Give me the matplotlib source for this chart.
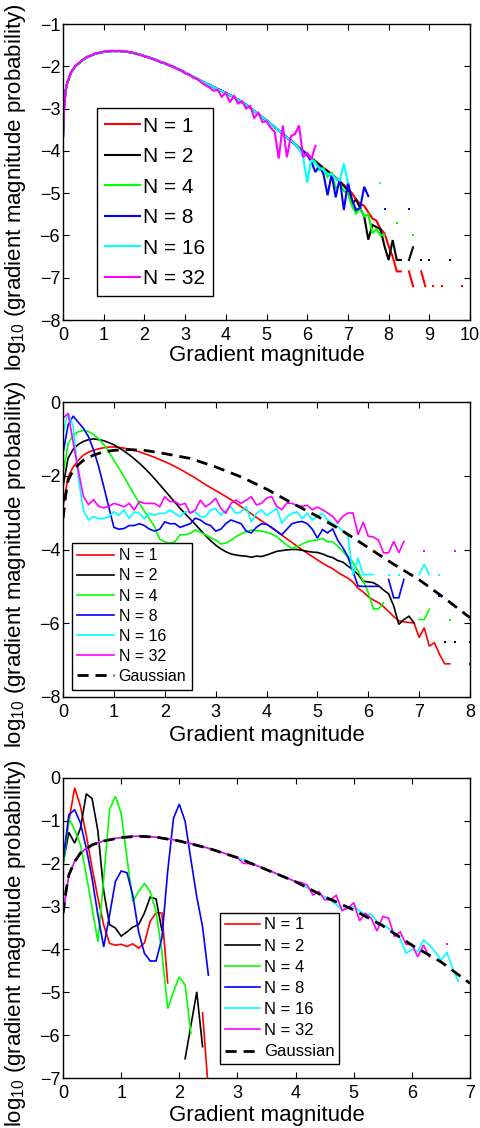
import numpy as np
import matplotlib
matplotlib.use("Agg")
import matplotlib.pyplot as plt

plt.rcParams['font.family'] = ['Liberation Sans', 'DejaVu Sans']
plt.rcParams['mathtext.fontset'] = 'custom'
plt.rcParams['mathtext.rm'] = 'Liberation Sans'
plt.rcParams['mathtext.it'] = 'Liberation Sans'

nan = np.nan

series_labels = ['N = 1', 'N = 2', 'N = 4', 'N = 8', 'N = 16', 'N = 32']
series_colors = ['#ff0000', '#000000', '#00ff00', '#0000ff', '#00ffff', '#ff00ff']

# ---------------- top panel (x = 0, 0.025, 0.06, 0.1 ... 10) ----------------
x_top = np.r_[0.0, 0.025, 0.06, np.arange(1, 101) / 10]

# part where all curves lie on top of each other (0 .. 5.7)
top_shared = [-3.66, -3.00, -2.60,
              -2.40, -2.14, -2.00, -1.92, -1.84, -1.78, -1.74, -1.70, -1.68, -1.66,
              -1.65, -1.64, -1.64, -1.64, -1.65, -1.66, -1.68, -1.70, -1.73, -1.76,
              -1.79, -1.82, -1.86, -1.90, -1.93, -1.97, -2.01, -2.05, -2.10, -2.15,
              -2.20, -2.25, -2.30, -2.35, -2.40, -2.44, -2.49, -2.54, -2.58, -2.63,
              -2.68, -2.73, -2.79, -2.85, -2.91, -2.98, -3.06, -3.13, -3.21, -3.28,
              -3.36, -3.44, -3.52, -3.60, -3.68, -3.76, -3.84]

# tails from x = 5.8
top_red_tail = [-3.92, -4.00, -4.08, -4.16, -4.24, -4.32, -4.40, -4.47, -4.55, -4.63,
                -4.72, -4.81, -4.90, -5.00, -5.15, -5.25, -5.30, -5.45, -5.60, -5.65,
                -5.85, -5.95, -6.25, -6.50, -6.85, -6.85, nan, -6.85, -7.20, nan,
                -6.85, -7.20, nan, -7.20, nan, -7.20, nan, nan, nan, nan,
                -7.20]
top_black_tail = [-3.93, -4.01, -4.09, -4.17, -4.25, -4.33, -4.41, -4.48, -4.56, -4.64,
                  -4.73, -4.82, -4.95, -5.25, -5.15, -5.35, -5.55, -6.10, -5.75, -5.80,
                  -5.85, -6.26, -6.58, -6.11, -6.58, -6.58, nan, -6.58, -6.28, nan,
                  -6.58, nan, -6.58, nan, nan, nan, nan, -6.58]
top_green_tail = [-3.93, -4.01, -4.09, -4.17, -4.26, -4.45, -4.40, -4.62, -4.50, -4.90,
                  -4.75, -4.95, -5.00, -5.30, -5.48, -5.35, -5.55, -5.50, -5.95, -5.85,
                  -6.00, -5.98, nan, nan, -5.70, nan, nan, nan, -6.00]
top_blue_tail = [-3.95, -4.00, -4.10, -4.25, -4.50, -4.35, -4.55, -5.05, -4.55, -5.10,
                 -4.65, -5.40, -4.75, -5.15, -5.40, -5.35, -4.85, -5.07, nan, nan,
                 nan, -5.38, nan, nan, nan, nan, nan, -5.38]
top_cyan_tail = [-3.95, -4.15, -4.75, -4.20, -4.30, -4.40, -4.45, -4.55, -4.55, -4.65,
                 -4.70, -4.30, -4.75, nan, nan, nan, nan, nan, nan, nan,
                 -4.77]
top_magenta = [-3.66, -3.02, -2.62,
               -2.40, -2.13, -2.00, -1.91, -1.84, -1.77, -1.74, -1.69, -1.68, -1.65,
               -1.65, -1.63, -1.64, -1.63, -1.65, -1.66, -1.67, -1.71, -1.72, -1.77,
               -1.78, -1.83, -1.85, -1.91, -1.92, -1.98, -2.00, -2.07, -2.09, -2.17,
               -2.19, -2.27, -2.30, -2.38, -2.45, -2.50, -2.58, -2.55, -2.72, -2.62,
               -2.85, -2.70, -2.88, -2.83, -3.00, -2.94, -3.22, -3.10, -3.32, -3.30,
               -3.45, -3.55, -4.18, -3.40, -4.15, -3.65, -3.60, -3.40, -4.15, -4.05,
               -4.20, -3.88]

# ---------------- middle panel (x = 0 .. 8, step 0.1) ----------------
x_mid = np.arange(0, 81) / 10

mid_red = [-2.84, -2.03, -1.76, -1.58, -1.44, -1.36, -1.31, -1.27, -1.24, -1.22,
           -1.22, -1.23, -1.25, -1.28, -1.31, -1.35, -1.40, -1.45, -1.50, -1.56,
           -1.62, -1.68, -1.75, -1.82, -1.90, -1.98, -2.06, -2.15, -2.24, -2.32,
           -2.40, -2.48, -2.56, -2.65, -2.74, -2.84, -2.93, -3.03, -3.13, -3.22,
           -3.31, -3.41, -3.51, -3.61, -3.71, -3.81, -3.91, -4.01, -4.10, -4.19,
           -4.28, -4.37, -4.45, -4.52, -4.62, -4.70, -4.78, -4.88, -5.05, -5.15,
           -5.28, -5.37, -5.44, -5.55, -5.68, -5.82, -5.93, -5.96, -5.98, -5.99,
           -6.39, -6.12, -6.62, -6.53, -6.84, -7.10, -7.10, nan, nan, nan,
           -7.10]
mid_black = [-2.29, -1.52, -1.28, -1.15, -1.07, -1.02, -1.00, -1.02, -1.05, -1.10,
             -1.16, -1.24, -1.33, -1.43, -1.54, -1.66, -1.79, -1.93, -2.08, -2.24,
             -2.40, -2.56, -2.72, -2.88, -3.03, -3.17, -3.32, -3.47, -3.62, -3.76,
             -3.88, -3.98, -4.06, -4.12, -4.15, -4.17, -4.18, -4.21, -4.18, -4.19,
             -4.15, -4.10, -4.05, -4.03, -4.01, -4.00, -4.00, -4.02, -4.05, -4.07,
             -4.08, -4.12, -4.18, -4.22, -4.30, -4.34, -4.45, -4.55, -4.68, -4.86,
             -4.88, -4.90, -4.98, -5.10, -5.20, -5.53, -6.03, -5.90, -5.81, -5.99,
             nan, nan, nan, nan, nan, -6.52, nan, -6.52, nan, nan,
             -6.52]
mid_green = [-1.94, -1.13, -0.90, -0.81, -0.77, -0.80, -0.88, -1.00, -1.15, -1.35,
             -1.58, -1.80, -2.03, -2.27, -2.51, -2.75, -2.96, -3.17, -3.38, -3.72,
             -3.79, -3.83, -3.79, -3.60, -3.60, -3.56, -3.47, -3.53, -3.60, -3.68,
             -3.74, -3.85, -3.83, -3.75, -3.65, -3.58, -3.52, -3.47, -3.49, -3.50,
             -3.53, -3.58, -3.65, -3.77, -3.88, -3.97, -3.92, -3.85, -3.79, -3.76,
             -3.74, -3.70, -3.79, -3.79, -3.91, -4.05, -4.20, -4.35, -4.59, -4.85,
             -5.17, -5.61, -5.61, -5.45, nan, nan, nan, nan, nan, nan,
             -5.90, -5.90, -5.62, nan, nan, nan, -5.90, nan, nan, nan,
             -5.90]
mid_blue = [-1.39, -0.62, -0.38, -0.55, -0.71, -0.94, -1.30, -1.75, -2.29, -2.85,
            -3.40, -3.45, -3.43, -3.35, -3.35, -3.30, -3.35, -3.45, -3.50, -3.45,
            -3.25, -3.30, -3.30, -3.40, -3.35, -3.30, -3.15, -3.20, -3.30, -3.35,
            -3.50, -3.45, -3.30, -3.20, -3.25, -3.30, -3.50, -3.55, -3.40, -3.30,
            -3.32, -3.40, -3.50, -3.60, -3.45, -3.30, -3.26, -3.24, -3.30, -3.45,
            -3.69, -3.46, -3.55, -3.44, -3.75, -3.95, -4.20, -4.60, -4.99, -5.00,
            -5.00, -5.00, -5.00, nan, -4.81, -5.31, -5.31, -4.81, nan, nan,
            nan, nan, nan, nan, -5.25]
mid_cyan = [-0.85, -0.29, -0.67, -2.03, -2.93, -3.20, -3.11, -3.16, -3.16, -3.11,
            -2.98, -3.07, -2.93, -3.16, -2.98, -3.02, -3.16, -3.02, -3.07, -3.02,
            -3.02, -2.93, -3.02, -3.11, -2.98, -2.98, -2.98, -3.11, -3.11, -2.93,
            -2.89, -3.07, -2.93, -2.84, -3.02, -2.98, -2.84, -3.25, -3.02, -2.93,
            -3.07, -2.98, -2.89, -3.29, -3.11, -3.02, -2.98, -3.16, -3.02, -3.20,
            -3.11, -3.02, -3.20, -3.29, -3.38, -3.50, -3.64, -4.68, -4.23, -4.68,
            -4.68, -4.68, nan, nan, -4.68, nan, -4.68, nan, nan, nan,
            -4.68, -4.40, -4.68, nan, -4.68]
mid_magenta = [-0.44, -0.31, -1.10, -1.85, -2.56, -2.78, -2.65, -2.83, -2.87, -2.83,
               -2.75, -2.79, -2.84, -2.75, -2.93, -2.70, -2.75, -2.75, -2.75, -2.84,
               -2.57, -2.70, -2.70, -2.79, -2.75, -3.02, -2.93, -2.66, -2.84, -2.75,
               -2.61, -2.88, -3.02, -2.75, -2.66, -2.75, -2.66, -2.57, -2.79, -2.75,
               -2.61, -2.56, -2.83, -2.92, -2.74, -2.75, -2.80, -2.83, -2.80, -2.92,
               -2.85, -2.92, -3.01, -3.10, -3.28, -3.10, -3.01, -3.01, -3.60, -3.26,
               -3.64, -3.66, -3.75, -4.09, -4.09, -3.78, -4.09, -3.78, nan, nan,
               nan, -4.05, nan, nan, nan, nan, nan, -4.05]
mid_gauss_x = [0, 0.05, 0.1, 0.2, 0.3, 0.4, 0.6, 0.8, 1.0, 1.3, 1.6, 2.0, 2.5, 3.0,
               3.5, 4.0, 4.5, 5.0, 5.5, 6.0, 6.5, 7.0, 7.5, 8.0]
mid_gauss_y = [-3.16, -2.55, -2.12, -1.85, -1.70, -1.58, -1.44, -1.35, -1.31, -1.29,
               -1.31, -1.40, -1.53, -1.76, -2.03, -2.36, -2.74, -3.10, -3.50, -3.95,
               -4.40, -4.82, -5.32, -5.85]

# ---------------- bottom panel (x = 0 .. 7, step 0.1) ----------------
x_bot = np.arange(0, 71) / 10

bot_red = [-1.90, -1.01, -0.23, -0.66, -1.33, -2.10, -2.80, -3.43, -3.86, -3.90,
           -3.88, -3.93, -3.87, -3.97, -3.85, -3.34, -3.15, -3.15, -4.78, nan,
           nan, nan, nan, nan, -5.48, -7.30]
bot_black = [-2.00, -1.27, -1.52, -1.17, -0.37, -0.48, -1.24, -2.64, -3.42, -3.50,
             -3.69, -3.59, -3.48, -3.42, -3.15, -2.78, -2.82, -3.55, nan, nan,
             nan, -6.55, -5.77, -4.99, -6.27]
bot_green = [-2.10, -0.94, -1.21, -1.56, -2.26, -3.04, -3.82, -2.34, -0.74, -0.43,
             -0.82, -1.87, -2.88, -2.65, -2.46, -2.65, -3.12, -4.05, -5.38, -4.99,
             -4.64, -4.83, -5.96]
bot_blue = [-1.95, -0.86, -0.74, -1.05, -1.64, -2.34, -3.20, -3.94, -3.20, -2.42,
            -2.17, -2.21, -2.73, -3.59, -4.09, -4.27, -4.27, -3.74, -2.18, -0.94,
            -0.61, -1.01, -1.91, -2.77, -3.47, -4.60]
bot_cyan = [-3.16, -2.26, -1.95, -1.75, -1.64, -1.56, -1.51, -1.47, -1.44, -1.41,
            -1.39, -1.37, -1.36, -1.36, -1.36, -1.37, -1.38, -1.40, -1.42, -1.44,
            -1.47, -1.50, -1.53, -1.56, -1.60, -1.64, -1.68, -1.72, -1.77, -1.81,
            -1.86, -1.91, -1.97, -2.02, -2.08, -2.14, -2.19, -2.25, -2.31, -2.36,
            -2.42, -2.49, -2.56, -2.63, -2.70, -2.77, -2.85, -2.95, -3.08, -3.02,
            -3.00, -3.10, -3.18, -3.18, -3.35, -3.42, -3.51, -3.62, -3.75, -4.09,
            -4.00, -4.05, -3.78, -3.90, -4.05, -4.25, -4.07, -4.44, -4.75]
bot_magenta = [-3.16, -2.27, -1.95, -1.76, -1.64, -1.56, -1.51, -1.47, -1.44, -1.41,
               -1.39, -1.37, -1.36, -1.36, -1.36, -1.37, -1.38, -1.40, -1.42, -1.44,
               -1.47, -1.50, -1.53, -1.56, -1.60, -1.64, -1.68, -1.72, -1.77, -1.81,
               -1.86, -1.99, -2.00, -2.03, -2.08, -2.14, -2.19, -2.25, -2.31, -2.36,
               -2.42, -2.44, -2.50, -2.73, -2.65, -2.84, -2.84, -2.74, -3.09, -3.04,
               -2.91, -3.33, -3.16, -3.27, -3.57, -3.23, -3.27, -3.70, -3.59, -3.88,
               -3.88, -4.17, -3.90, -4.17, nan, nan, -3.88]
bot_gauss_x = [0, 0.05, 0.1, 0.2, 0.3, 0.5, 0.7, 1.0, 1.3, 1.6, 2.0, 2.5, 3.0, 3.5,
               4.0, 4.5, 5.0, 5.5, 6.0, 6.5, 7.0]
bot_gauss_y = [-3.16, -2.65, -2.26, -1.95, -1.75, -1.56, -1.47, -1.39, -1.36, -1.38,
               -1.47, -1.64, -1.86, -2.14, -2.42, -2.77, -3.08, -3.45, -3.90, -4.29,
               -4.79]


def draw_series(ax, x, y, color, lw, label):
    y = np.asarray(y, dtype=float)
    x = np.asarray(x[:len(y)], dtype=float)
    ax.plot(x, y, color=color, lw=lw, label=label, solid_joinstyle='miter')
    # single bins between gaps show up as small dots
    ok = np.isfinite(y)
    prev_ok = np.r_[False, ok[:-1]]
    next_ok = np.r_[ok[1:], False]
    lone = ok & ~prev_ok & ~next_ok
    if lone.any():
        ax.plot(x[lone], y[lone], ls='none', marker='s', ms=1.6, mew=0, color=color)


def style_axes(ax, xlim, ylim, yticks, xlab_y):
    ax.set_xlim(*xlim)
    ax.set_ylim(*ylim)
    ax.set_xticks(range(xlim[0], xlim[1] + 1))
    ax.set_yticks(yticks)
    ax.tick_params(direction='in', top=True, right=True, length=4, width=0.8,
                   labelsize=13)
    ax.tick_params(axis='x', pad=5)
    ax.tick_params(axis='y', pad=2)
    for sp in ax.spines.values():
        sp.set_linewidth(1.0)
    ax.set_xlabel('Gradient magnitude', fontsize=16)
    ax.set_ylabel(r'log$_{10}$ (gradient magnitude probability)', fontsize=16)
    ax.xaxis.set_label_coords(0.5, xlab_y)
    ax.yaxis.set_label_coords(-0.085, 0.45)


fig = plt.figure(figsize=(4.8, 11.28), dpi=100)
ax1 = fig.add_axes([0.1313, 0.7163, 0.8479, 0.2624])
ax2 = fig.add_axes([0.1313, 0.3821, 0.8479, 0.2615])
ax3 = fig.add_axes([0.1313, 0.0443, 0.8479, 0.2660])

legend_box = dict(loc='upper left', borderaxespad=0, fancybox=False,
                  framealpha=1, edgecolor='black')

# top
top_series = [top_shared + top_red_tail, top_shared + top_black_tail,
              top_shared + top_green_tail, top_shared + top_blue_tail,
              top_shared + top_cyan_tail, top_magenta]
for vals, c, lab in zip(top_series, series_colors, series_labels):
    draw_series(ax1, x_top, vals, c, 1.5, lab)
style_axes(ax1, (0, 10), (-8, -1), range(-8, 0), -0.085)
ax1.legend(bbox_to_anchor=(0.083, 0.715), fontsize=15, handlelength=1.65,
           handletextpad=0.15, labelspacing=0.55, borderpad=0.4, **legend_box)

# middle
mid_series = [mid_red, mid_black, mid_green, mid_blue, mid_cyan, mid_magenta]
for vals, c, lab in zip(mid_series, series_colors, series_labels):
    draw_series(ax2, x_mid, vals, c, 1.2, lab)
ax2.plot(mid_gauss_x, mid_gauss_y, color='black', lw=2, dashes=(4, 2.5), label='Gaussian')
style_axes(ax2, (0, 8), (-8, 0), range(-8, 1, 2), -0.095)
ax2.legend(bbox_to_anchor=(0.021, 0.523), fontsize=11.5, handlelength=2.3,
           handletextpad=0.3, labelspacing=0.32, borderpad=0.35, **legend_box)

# bottom
bot_series = [bot_red, bot_black, bot_green, bot_blue, bot_cyan, bot_magenta]
for vals, c, lab in zip(bot_series, series_colors, series_labels):
    draw_series(ax3, x_bot, vals, c, 1.2, lab)
ax3.plot(bot_gauss_x, bot_gauss_y, color='black', lw=2, dashes=(4, 2.5), label='Gaussian')
style_axes(ax3, (0, 7), (-7, 0), range(-7, 1), -0.09)
ax3.legend(bbox_to_anchor=(0.386, 0.551), fontsize=12, handlelength=2.1,
           handletextpad=0.25, labelspacing=0.37, borderpad=0.28, **legend_box)

fig.savefig('out.png', dpi=100)
